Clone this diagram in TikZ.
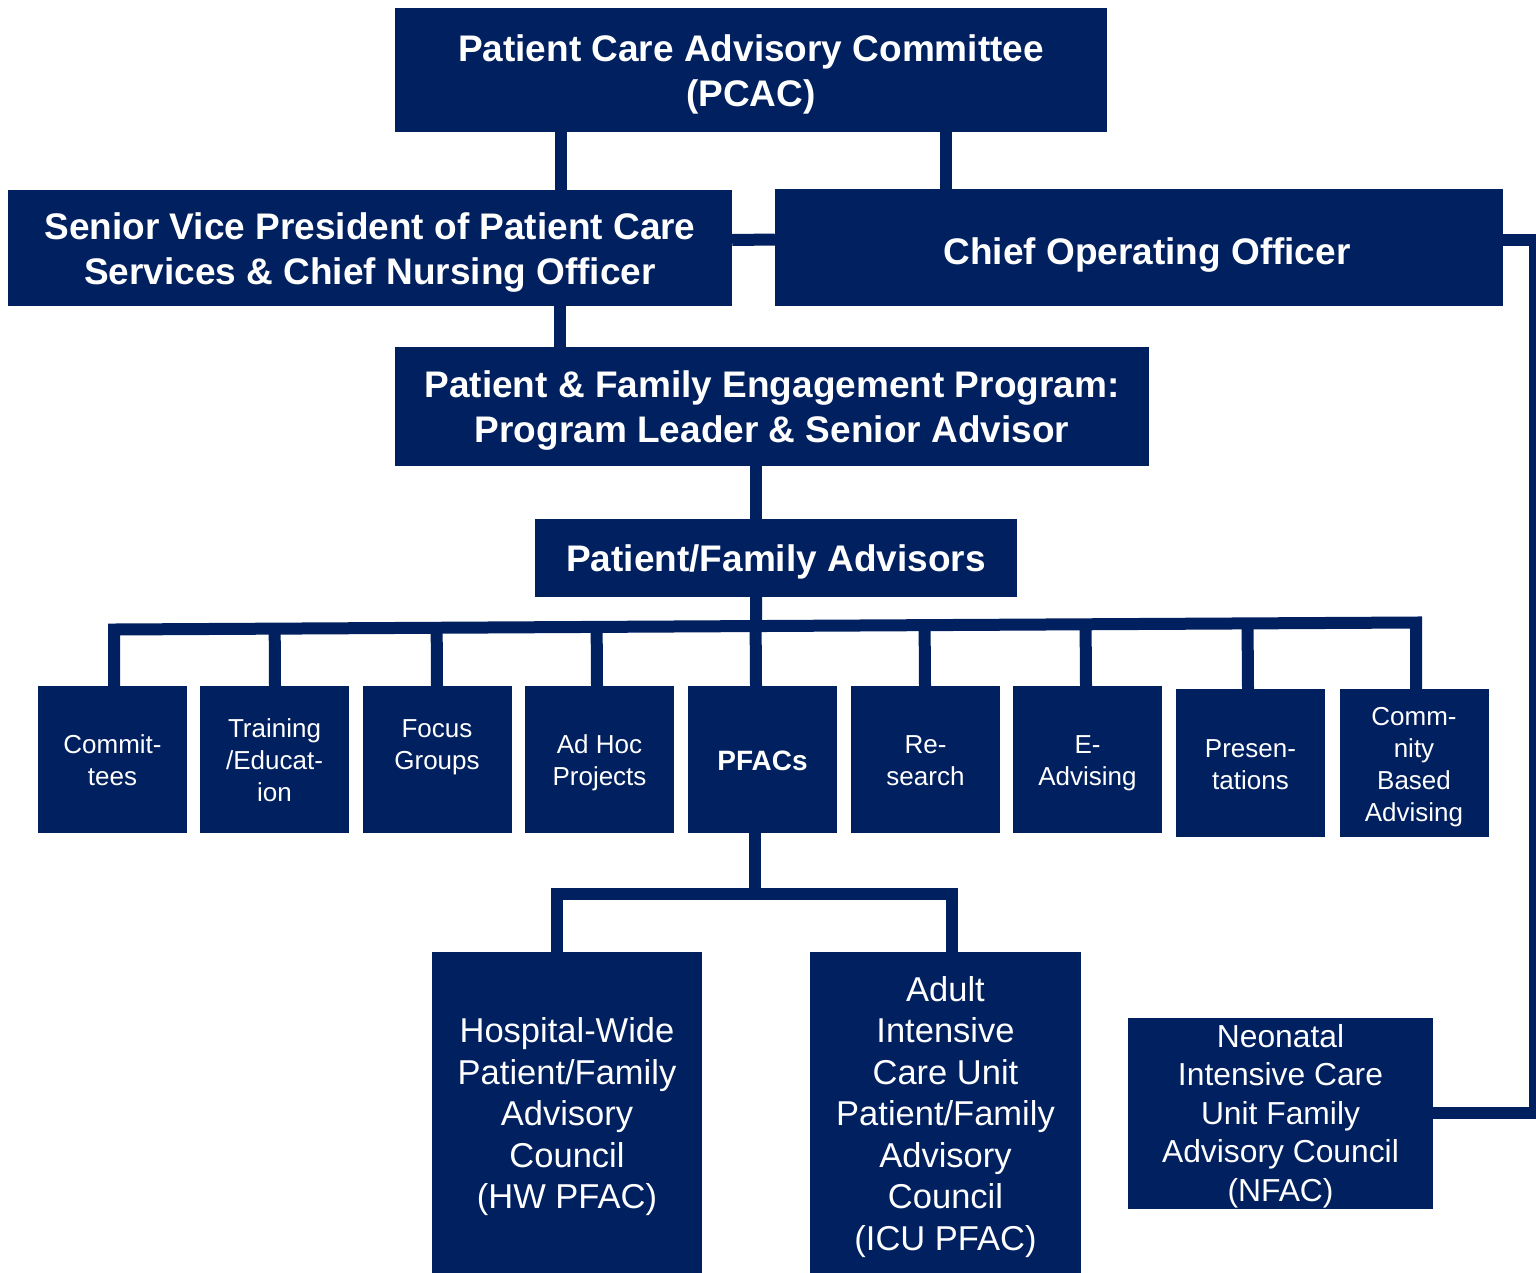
\documentclass[tikz,border=0pt]{standalone}
\usepackage{fontspec}
\setmainfont{Liberation Sans}
\usetikzlibrary{calc}
\definecolor{navy}{HTML}{002060}
% struts giving every text block the same top and bottom
\newcommand\tpA{\rule{0pt}{0.98em}}
\newcommand\tpC{\rule{0pt}{1.16em}}
\newcommand\tpS{\rule{0pt}{1.03em}}
\newcommand\tpB{\rule{0pt}{0.93em}}
\newcommand\btm{\rule[-0.25em]{0pt}{0.25em}}
\begin{document}
\begin{tikzpicture}[x=1pt,y=-1pt,
  box/.style={fill=navy, text=white, inner sep=0pt, align=center},
  title/.style={box, font=\fontsize{37}{45}\selectfont\bfseries},
  small/.style={box, minimum width=149pt, minimum height=147pt, font=\fontsize{26}{32}\selectfont},
  big/.style={box, font=\fontsize{34.5}{41.5}\selectfont},
  nbig/.style={box, font=\fontsize{31.8}{38.5}\selectfont},
  link/.style={draw=navy, line width=12pt, line join=miter}]
\fill[white] (0,0) rectangle (1536,1272);
\useasboundingbox (0,0) rectangle (1536,1272);
% top levels
\node[title, minimum width=712pt, minimum height=124pt] (pcac) at (751,70) {\tpA Patient Care Advisory Committee\\(PCAC)\btm};
\node[title, minimum width=724pt, minimum height=116pt] (svp) at (370,248) {\tpA Senior Vice President of Patient Care\\Services \& Chief Nursing Officer\btm};
\node[title, minimum width=728pt, minimum height=117pt] (coo) at (1139,247.5) {\tpC\hspace*{16pt}Chief Operating Officer\btm};
\node[title, minimum width=754pt, minimum height=119pt] (pfep) at (772,406.5) {\tpA Patient \& Family Engagement Program:\\Program Leader \& Senior Advisor\btm};
\node[title, minimum width=482pt, minimum height=78pt] (pfa) at (776,558) {\tpA Patient/Family Advisors\btm};
% activity boxes
\node[small] (c1) at (112.5,759.5) {\tpS Commit-\\tees\btm};
\node[small] (c2) at (274.5,759.5) {\tpS Training\\/Educat-\\ion\btm};
\node[small] (c3) at (437,759.5) {\tpS Focus\\Groups\\\btm};
\node[small] (c4) at (599.5,759.5) {\tpS Ad Hoc\\Projects\btm};
\node[small, font=\fontsize{28}{32}\selectfont\bfseries] (c5) at (762.5,759.5) {\tpS PFACs\btm};
\node[small] (c6) at (925.5,759.5) {\tpS Re-\\search\btm};
\node[small] (c7) at (1087.5,759.5) {\tpS E-\\Advising\btm};
\node[small, minimum height=148pt] (c8) at (1250.5,763) {\tpS Presen-\\tations\btm};
\node[small, minimum height=148pt] (c9) at (1414,763) {\tpS Comm-\\nity\\Based\\Advising\btm};
% councils
\node[big, minimum width=270pt, minimum height=324pt] (hw) at (567,1114) {\tpB Hospital-Wide\\Patient/Family\\Advisory\\Council\\(HW PFAC)\btm};
\node[big, minimum width=271pt, minimum height=324pt] (icu) at (945.5,1114) {\tpB Adult\\Intensive\\Care Unit\\Patient/Family\\Advisory\\Council\\(ICU PFAC)\btm};
\node[nbig, minimum width=305pt, minimum height=187pt] (nfac) at (1280.5,1113.5) {\tpB Neonatal\\Intensive Care\\Unit Family\\Advisory Council\\(NFAC)\btm};
% connectors
\draw[link] ([xshift=-190pt]pcac.south) -- ([xshift=191pt]svp.north);
\draw[link] ([xshift=195pt]pcac.south) -- ([xshift=-193pt]coo.north);
\draw[link] ([yshift=8pt]svp.east) -- ([yshift=8pt]coo.west);
\draw[link] ([xshift=190pt]svp.south) -- ([xshift=-212pt]pfep.north);
\draw[link] ([xshift=-16pt]pfep.south) -- ([xshift=-20pt]pfa.north);
\coordinate (busL) at (114,629.5);
\coordinate (busR) at (1416,622.5);
\draw[link] ([xshift=-20pt]pfa.south) -- ($(busL)!([xshift=-20pt]pfa.south)!(busR)$);
\draw[link] ([xshift=1.5pt]c1.north) -- (busL) -- (busR) -- ([xshift=2pt]c9.north);
\foreach \n/\s in {c2/0.5,c3/0,c4/-2.5,c5/-6.5,c6/-0.5,c7/-1.5,c8/-2.5}
  \draw[link] ([xshift=\s pt]\n.north) -- ($(busL)!([xshift=\s pt]\n.north)!(busR)$);
\coordinate (subbus) at (755,894);
\draw[link] ([xshift=-7.5pt]c5.south) -- (subbus);
\draw[link] ([xshift=-10pt]hw.north) -- ++(0,-58) -| ([xshift=6.5pt]icu.north);
\coordinate (rtop) at (1535,239.5);
\coordinate (rbot) at (1535,1112.5);
\draw[link] ([yshift=8pt]coo.east) -- (rtop) -- (rbot) -- ([yshift=1pt]nfac.east);
\end{tikzpicture}
\end{document}
